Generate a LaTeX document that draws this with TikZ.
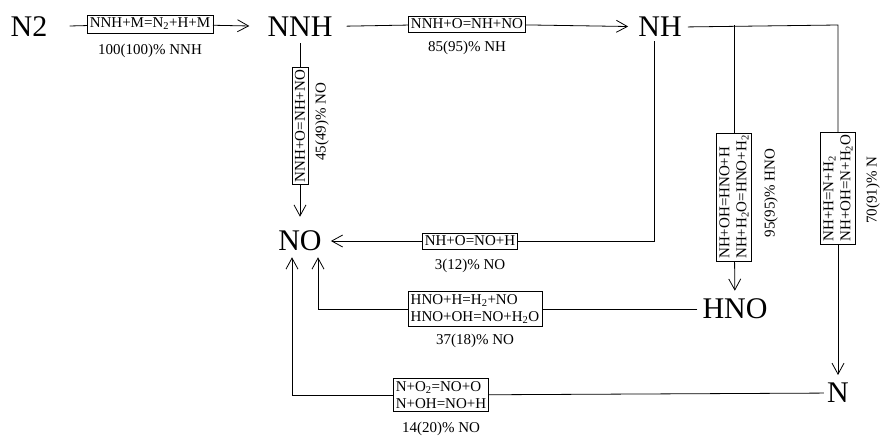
\documentclass[tikz,border=0pt]{standalone}
\usepackage{fontspec}
\setmainfont{Liberation Serif}
\usetikzlibrary{arrows.meta, positioning}
\tikzstyle{species} = [font=\fontsize{30}{30}\selectfont, inner sep=0pt]
\tikzstyle{rxn} = [rectangle, draw=black, fill=white, align=left, font=\fontsize{15}{17}\selectfont, inner xsep=2.5pt, inner ysep=3pt]
\tikzstyle{rate} = [font=\fontsize{15}{17}\selectfont, inner sep=0pt]
\tikzstyle{link} = [line width=0.8pt]
\tikzstyle{arrow} = [link, -{Straight Barb[length=11pt,width=12pt]}]

\begin{document}
\begin{tikzpicture}[x=1pt, y=-1pt]
\useasboundingbox (0,0) rectangle (880,439);

% species
\node (N2) [species] at (29,27) {N2};
\node (NNH) [species] at (300,27) {NNH};
\node (NH) [species] at (660,27) {NH};
\node (NO) [species] at (300,241) {NO};
\node (HNO) [species] at (735,309) {HNO};
\node (N) [species] at (838,393) {N};

% reactions
\node (r1) [rxn] at (150,24) {NNH+M=N\textsubscript{2}+H+M};
\node (p1) [rate, below=11pt of r1] {100(100)\% NNH};

\node (r2) [rxn] at (467,24) {NNH+O=NH+NO};
\node (p2) [rate, below=9pt of r2] {85(95)\% NH};

\node (r3) [rxn, rotate=90] at (300,126) {NNH+O=NH+NO};
\node (p3) [rate, rotate=90] at (322,122) {45(49)\% NO};

\node (r4) [rxn] at (470,241) {NH+O=NO+H};
\node (p4) [rate, below=10pt of r4] {3(12)\% NO};

\node (r5) [rxn] at (475,309) {HNO+H=H\textsubscript{2}+NO\\HNO+OH=NO+H\textsubscript{2}O};
\node (p5) [rate, below=7pt of r5] {37(18)\% NO};

\node (r6) [rxn, rotate=90] at (734,197) {NH+OH=HNO+H\\NH+H\textsubscript{2}O=HNO+H\textsubscript{2}};
\node (p6) [rate, rotate=90] at (771,193) {95(95)\% HNO};

\node (r7) [rxn, rotate=90] at (838,188) {NH+H=N+H\textsubscript{2}\\NH+OH=N+H\textsubscript{2}O};
\node (p7) [rate, rotate=90] at (873,190) {70(91)\% N};

\node (r8) [rxn] at (441,395) {N+O\textsubscript{2}=NO+O\\N+OH=NO+H};
\node (p8) [rate, below=10pt of r8] {14(20)\% NO};

\coordinate (cNH) at (838,25);

% connectors
\draw [link, shorten <=22pt] (N2) -- (r1);
\draw [arrow, shorten >=18pt] (r1) -- (NNH);
\draw [link, shorten <=14pt] (NNH) -- (r2);
\draw [arrow, shorten >=10pt] (r2) -- (NH);
\draw [link, shorten <=6pt] (NNH) -- (r3);
\draw [arrow, shorten >=14pt] (r3) -- (NO);
\draw [link, shorten <=6pt] (NH.east) -- (cNH) -- (r7);
\draw [arrow, shorten >=8pt] (r7) -- (N);
\draw [link] (r6 |- cNH) -- (r6);
\draw [arrow, shorten >=8pt] (r6) -- (HNO);
\draw [link, shorten <=4pt] ([xshift=-6pt]NH.south) |- (r4);
\draw [arrow, shorten >=9pt] (r4) -- (NO);
\draw [link, shorten <=5pt] (HNO) -- (r5);
\draw [arrow, shorten >=6pt] (r5) -| ([xshift=18pt]NO.south);
\draw [link, shorten <=3pt] (N) -- (r8);
\draw [arrow, shorten >=6pt] (r8) -| ([xshift=-8pt]NO.south);
\end{tikzpicture}
\end{document}
